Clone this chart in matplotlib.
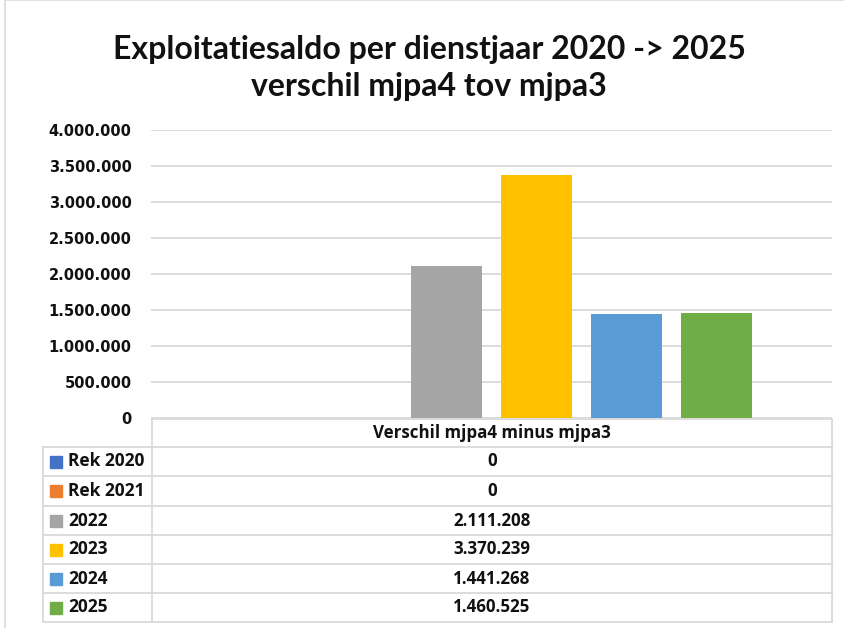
import matplotlib.pyplot as plt
from matplotlib.lines import Line2D
from matplotlib.patches import Rectangle
from matplotlib.ticker import FuncFormatter

W, H = 844, 628

title = 'Exploitatiesaldo per dienstjaar 2020 -> 2025\nverschil mjpa4 tov mjpa3'
category = 'Verschil mjpa4 minus mjpa3'
series = ['Rek 2020', 'Rek 2021', '2022', '2023', '2024', '2025']
values = [0, 0, 2111208, 3370239, 1441268, 1460525]
colors = ['#4472C4', '#ED7D31', '#A5A5A5', '#FFC000', '#5B9BD5', '#70AD47']
yticks = [0, 500000, 1000000, 1500000, 2000000, 2500000, 3000000, 3500000, 4000000]

grid_col = '#d9d9d9'
txt_col = '#111111'


def fx(px):
    return px / W


def fy(py):
    return 1 - py / H


def dots(v):
    return f'{int(round(v)):,}'.replace(',', '.')


fig = plt.figure(figsize=(W / 100, H / 100), dpi=100)
fig.patch.set_facecolor('white')

# outer chart frame
fig.add_artist(Rectangle((fx(5), fy(700)), fx(900), 700 / H, transform=fig.transFigure,
                         fill=False, edgecolor=grid_col, linewidth=1.2))

fig.text(fx(429), fy(68), title, ha='center', va='center', fontsize=23,
         fontweight='bold', family='Lato', linespacing=1.35, color=txt_col)

# plot area
left, right, top, bottom = 151, 832, 130, 418
ax = fig.add_axes([fx(left), fy(bottom), fx(right - left), (bottom - top) / H])
n = len(series)
pitch = 90 / (right - left)
width = 71 / (right - left)
for i, (s, v, c) in enumerate(zip(series, values, colors)):
    ax.bar((i - (n - 1) / 2) * pitch, v, width=width, color=c, zorder=3)
ax.set_xlim(-0.5, 0.5)
ax.set_ylim(0, 4000000)
ax.set_yticks(yticks)
ax.yaxis.set_major_formatter(FuncFormatter(lambda v, p: dots(v)))
ax.set_xticks([])
for sp in ax.spines.values():
    sp.set_visible(False)
ax.grid(axis='y', color=grid_col, linewidth=1.3, zorder=0)
ax.tick_params(axis='y', length=0, pad=14, labelsize=10.5)
for lab in ax.get_yticklabels():
    lab.set_fontweight('bold')
    lab.set_family('DejaVu Sans')
    lab.set_color(txt_col)

# data table under the chart
tl, tm, tr = 43, 152, 832
rows_y = [419, 447, 476, 506, 535, 564, 593, 622]


def hline(y, x0, x1):
    fig.add_artist(Line2D([fx(x0), fx(x1)], [fy(y), fy(y)], transform=fig.transFigure,
                          color=grid_col, linewidth=1.3))


def vline(x, y0, y1):
    fig.add_artist(Line2D([fx(x), fx(x)], [fy(y0), fy(y1)], transform=fig.transFigure,
                          color=grid_col, linewidth=1.3))


hline(rows_y[0], tm, tr)
for y in rows_y[1:]:
    hline(y, tl, tr)
vline(tm, rows_y[0], rows_y[-1])
vline(tr, rows_y[0], rows_y[-1])
vline(tl, rows_y[1], rows_y[-1])

mid = (tm + tr) / 2
fig.text(fx(mid), fy((rows_y[0] + rows_y[1]) / 2), category, ha='center', va='center',
         fontsize=12.2, fontweight='bold', family='Open Sans', color=txt_col)
for i, (s, v, c) in enumerate(zip(series, values, colors)):
    yc = (rows_y[i + 1] + rows_y[i + 2]) / 2
    fig.add_artist(Rectangle((fx(50), fy(yc + 6)), fx(12), 12 / H,
                             transform=fig.transFigure, color=c))
    fig.text(fx(68), fy(yc), s, ha='left', va='center', fontsize=12.5,
             fontweight='bold', family='Open Sans', color=txt_col)
    fig.text(fx(mid), fy(yc), dots(v), ha='center', va='center', fontsize=12.2,
             fontweight='bold', family='Open Sans', color=txt_col)

fig.savefig('out.png', dpi=100)
